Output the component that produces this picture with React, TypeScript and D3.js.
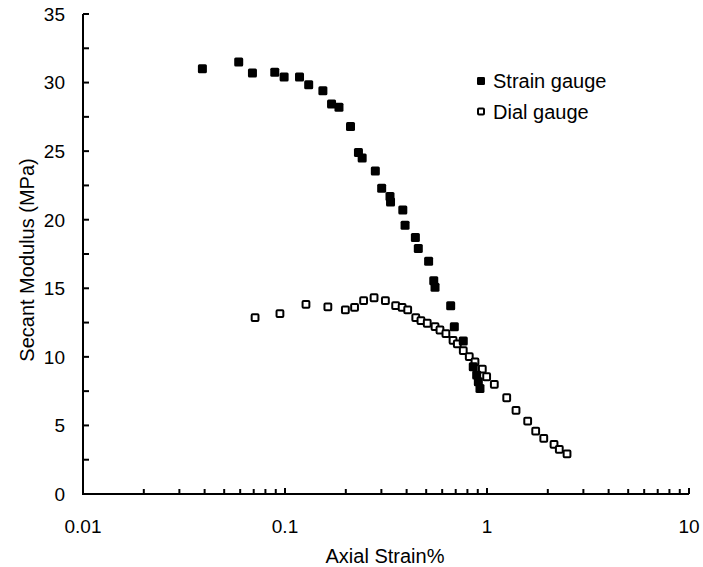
import React from "react";
import * as d3 from "d3";

const strainX = [0.039, 0.059, 0.069, 0.089, 0.099, 0.118, 0.131, 0.154, 0.170, 0.185, 0.211, 0.231, 0.241, 0.280, 0.301, 0.331, 0.333, 0.383, 0.393, 0.442, 0.457, 0.514, 0.545, 0.553, 0.661, 0.689, 0.763, 0.855, 0.889, 0.906, 0.923];
const strainY = [31.0, 31.5, 30.7, 30.75, 30.4, 30.4, 29.85, 29.4, 28.44, 28.2, 26.8, 24.9, 24.5, 23.55, 22.3, 21.7, 21.3, 20.7, 19.6, 18.7, 17.9, 16.97, 15.55, 15.07, 13.73, 12.2, 11.16, 9.28, 8.68, 8.19, 7.7];

const dialX = [0.0711, 0.0944, 0.127, 0.163, 0.199, 0.221, 0.245, 0.276, 0.314, 0.353, 0.380, 0.405, 0.444, 0.471, 0.506, 0.553, 0.585, 0.626, 0.679, 0.713, 0.763, 0.817, 0.872, 0.948, 0.996, 1.087, 1.252, 1.392, 1.59, 1.742, 1.91, 2.147, 2.28, 2.49];
const dialY = [12.86, 13.15, 13.83, 13.64, 13.42, 13.61, 14.1, 14.31, 14.1, 13.73, 13.61, 13.42, 12.86, 12.64, 12.45, 12.2, 11.96, 11.69, 11.2, 10.94, 10.45, 10.01, 9.63, 9.11, 8.55, 8.0, 7.02, 6.1, 5.32, 4.59, 4.06, 3.62, 3.26, 2.92];

const xTickLabels = ["0.01", "0.1", "1", "10"];
const yTickLabels = ["0", "5", "10", "15", "20", "25", "30", "35"];
const seriesNames = ["Strain gauge", "Dial gauge"];

const W = 703, H = 567;
const left = 83, right = 689, top = 14, bottom = 494;
const FONT = "'Liberation Sans', Arial, sans-serif";

export default function App() {
  const x = d3.scaleLog().domain([0.01, 10]).range([left, right]);
  const y = d3.scaleLinear().domain([0, 35]).range([bottom, top]);

  const xMinor: number[] = [];
  for (let e = -2; e < 1; e++) {
    for (let m = 2; m <= 9; m++) xMinor.push(m * Math.pow(10, e));
  }
  const xMajor = xTickLabels.map(Number);
  const yTicks = d3.range(0, 35.01, 2.5);

  return (
    <svg width={W} height={H} style={{ position: "absolute", left: 0, top: 0, background: "#fff" }} fontFamily={FONT}>
      <rect width={W} height={H} fill="#fff" />
      {yTicks.map((t, i) => (
        <line key={"yt" + i} x1={left} x2={left + 6} y1={y(t)} y2={y(t)} stroke="#000" strokeWidth={2} />
      ))}
      {yTickLabels.map((l) => (
        <text key={"yl" + l} x={65} y={y(+l)} dy="0.36em" textAnchor="end" fontSize={19}>{l}</text>
      ))}
      {xMinor.map((t, i) => (
        <line key={"xm" + i} x1={x(t)} x2={x(t)} y1={bottom} y2={bottom - 5} stroke="#000" strokeWidth={2} />
      ))}
      {xMajor.map((t, i) => (
        <line key={"xM" + i} x1={x(t)} x2={x(t)} y1={bottom} y2={bottom - 6} stroke="#000" strokeWidth={2} />
      ))}
      {xTickLabels.map((l) => (
        <text key={"xl" + l} x={x(+l)} y={533} textAnchor="middle" fontSize={19}>{l}</text>
      ))}
      <line x1={left} x2={left} y1={top} y2={bottom + 1} stroke="#000" strokeWidth={2} />
      <line x1={left - 1} x2={right} y1={bottom} y2={bottom} stroke="#000" strokeWidth={2} />
      <text x={385} y={563} textAnchor="middle" fontSize={20}>Axial Strain%</text>
      <text transform={`translate(34,260) rotate(-90)`} textAnchor="middle" fontSize={20}>Secant Modulus (MPa)</text>
      {dialX.map((v, i) => (
        <rect key={"d" + i} x={x(v) - 3.4} y={y(dialY[i]) - 3.4} width={6.8} height={6.8} rx={1} fill="#fff" stroke="#000" strokeWidth={2} />
      ))}
      {strainX.map((v, i) => (
        <rect key={"s" + i} x={x(v) - 4.5} y={y(strainY[i]) - 4.5} width={9} height={9} rx={1.5} fill="#000" />
      ))}
      <rect x={481 - 4} y={81 - 4} width={8} height={8} rx={1.2} fill="#000" />
      <text x={493} y={87.5} fontSize={20}>{seriesNames[0]}</text>
      <rect x={481 - 3} y={111.5 - 3} width={6} height={6} rx={1} fill="#fff" stroke="#000" strokeWidth={2} />
      <text x={493} y={118.5} fontSize={20}>{seriesNames[1]}</text>
    </svg>
  );
}
